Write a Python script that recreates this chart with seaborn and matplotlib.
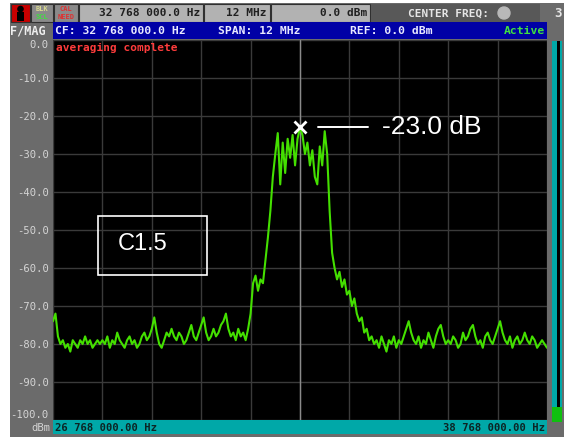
import numpy as np
import matplotlib
matplotlib.use("Agg")
import matplotlib.pyplot as plt
import matplotlib.patches as mpatches
import seaborn as sns

# ── Sweep settings ────────────────────────────────────────────
START_MHZ = 26.768
STOP_MHZ = 38.768
CENTER_MHZ = 32.768
REF_DBM = 0.0
BOTTOM_DBM = -100.0
Y_TICKS = [0, -10, -20, -30, -40, -50, -60, -70, -80, -90, -100]

# ── Trace (dBm), 201 sweep points ─────────────────────────────
floor_left = [-74, -72, -78, -80, -79, -81, -80, -82, -79, -80,
              -81, -79, -80, -78, -80, -79, -81, -80, -79, -80,
              -79, -80, -78, -81, -79, -80, -77, -79, -80, -81,
              -79, -78, -80, -79, -81, -80, -78, -77, -79, -78,
              -76, -73, -77, -80, -81, -79, -77, -78, -76, -78,
              -79, -77, -78, -80, -79, -77, -75, -78, -79, -77,
              -75, -73, -77, -79, -78, -76, -78, -77, -75, -74,
              -72, -76, -78, -77, -79, -76, -78, -77, -79, -76]
rise = [-72, -64, -62, -66, -63, -64, -58, -52, -45, -36]
top_left = [-30, -24.5, -38, -27, -35, -26, -31, -25, -33, -26]
top_center = [-23]
top_right = [-25, -30, -27, -33, -29, -36, -38, -28, -33, -24]
fall = [-30, -45, -56, -60, -63, -61, -65, -63, -67, -66]
floor_right = [-70, -68, -72, -74, -73, -77, -76, -79, -78, -80,
               -79, -81, -78, -80, -82, -79, -80, -78, -81, -79,
               -80, -78, -76, -74, -77, -79, -80, -78, -81, -79,
               -80, -77, -79, -81, -78, -76, -75, -78, -80, -79,
               -80, -78, -79, -81, -80, -77, -79, -78, -76, -75,
               -78, -80, -79, -81, -78, -77, -79, -80, -78, -76,
               -74, -77, -79, -80, -78, -81, -79, -78, -80, -79,
               -77, -79, -80, -78, -79, -81, -80, -79, -80, -81]

level = np.array(floor_left + rise + top_left + top_center + top_right
                 + fall + floor_right, dtype=float)
freq = np.linspace(START_MHZ, STOP_MHZ, len(level))

# ── Colours ───────────────────────────────────────────────────
FRAME = "#6b6b6b"
BOX = "#b2b2b2"
BLUE = "#0000a6"
TEAL = "#00a8a8"
TRACE = "#44e000"
GRID = "#3a3a3a"
MONO = "DejaVu Sans Mono"

sns.set_style("dark")
plt.rcParams["font.family"] = ["DejaVu Sans"]

W, H = 564, 444
fig = plt.figure(figsize=(W / 100, H / 100), dpi=100)
fig.patch.set_facecolor("white")

# background layer in pixel coordinates for the instrument frame
bg = fig.add_axes([0, 0, 1, 1])
bg.set_xlim(0, W)
bg.set_ylim(H, 0)
bg.axis("off")


def rect(x0, y0, x1, y1, fc, ec="none", lw=0):
    bg.add_patch(mpatches.Rectangle((x0, y0), x1 - x0, y1 - y0,
                                    facecolor=fc, edgecolor=ec, linewidth=lw))


rect(10, 3, W, 437, FRAME)
# top status row
rect(11, 4, 30, 22, "#c80000", "#303030", 0.8)
bg.add_patch(mpatches.Circle((20.5, 9), 2.6, color="black"))
rect(17, 12, 24, 21, "black")
rect(31, 4, 53, 22, "#8a8a8a", "#303030", 0.8)
bg.text(42, 9, "BLK", color="#d8d890", fontsize=5, fontfamily=MONO,
        fontweight="bold", ha="center", va="center")
bg.text(42, 17, "SCL", color="#40e040", fontsize=5, fontfamily=MONO,
        fontweight="bold", ha="center", va="center")
rect(54, 4, 78, 22, "#8a8a8a", "#303030", 0.8)
bg.text(66, 9, "CAL", color="#e03030", fontsize=5, fontfamily=MONO,
        fontweight="bold", ha="center", va="center")
bg.text(66, 17, "NEED", color="#e03030", fontsize=5, fontfamily=MONO,
        fontweight="bold", ha="center", va="center")
rect(79, 4, 203, 22, BOX, "#303030", 0.8)
bg.text(200, 13.5, "32 768 000.0 Hz", color="#202020", fontsize=8,
        fontfamily=MONO, fontweight="bold", ha="right", va="center")
rect(204, 4, 270, 22, BOX, "#303030", 0.8)
bg.text(267, 13.5, "12 MHz", color="#202020", fontsize=8,
        fontfamily=MONO, fontweight="bold", ha="right", va="center")
rect(271, 4, 370, 22, BOX, "#303030", 0.8)
bg.text(367, 13.5, "0.0 dBm", color="#202020", fontsize=8,
        fontfamily=MONO, fontweight="bold", ha="right", va="center")
rect(371, 4, 540, 22, "#585858")
bg.text(448, 14, "CENTER FREQ:", color="#e6e6e6", fontsize=8,
        fontfamily=MONO, fontweight="bold", ha="center", va="center")
bg.add_patch(mpatches.Circle((504, 13), 6, color="#b8b8b8"))
bg.text(558, 13.5, "3", color="#e6e6e6", fontsize=9, fontfamily=MONO,
        fontweight="bold", ha="center", va="center")

# blue info bar
rect(53, 22, 547, 39, BLUE)
bg.text(10, 30.5, "F/MAG", color="#eeeeee", fontsize=8.6, fontfamily=MONO,
        fontweight="bold", ha="left", va="center")
bg.text(55, 31, "CF: 32 768 000.0 Hz", color="#e8e8ff", fontsize=8.2,
        fontfamily=MONO, fontweight="bold", ha="left", va="center")
bg.text(218, 31, "SPAN: 12 MHz", color="#e8e8ff", fontsize=8.2,
        fontfamily=MONO, fontweight="bold", ha="left", va="center")
bg.text(350, 31, "REF: 0.0 dBm", color="#e8e8ff", fontsize=8.2,
        fontfamily=MONO, fontweight="bold", ha="left", va="center")
bg.text(545, 31, "Active", color="#40e040", fontsize=8.2,
        fontfamily=MONO, fontweight="bold", ha="right", va="center")

# bottom frequency bar
rect(53, 420, 547, 434, TEAL)
bg.text(55, 427.5, f"{START_MHZ * 1e6:,.2f} Hz".replace(",", " "),
        color="#0c2424", fontsize=7.6, fontfamily=MONO, fontweight="bold",
        ha="left", va="center")
bg.text(545, 427.5, f"{STOP_MHZ * 1e6:,.2f} Hz".replace(",", " "),
        color="#0c2424", fontsize=7.6, fontfamily=MONO, fontweight="bold",
        ha="right", va="center")
bg.text(50, 428, "dBm", color="#d4d4d4", fontsize=7.6, fontfamily=MONO,
        ha="right", va="center")

# right level meter
rect(552, 41, 562, 422, TEAL)
rect(557, 41, 560, 407, "black")
rect(552, 407, 562, 422, "#10c010")

# ── Spectrum plot ─────────────────────────────────────────────
ax = fig.add_axes([53 / W, 1 - 420 / H, 494 / W, 380 / H])
ax.set_facecolor("black")
ax.set_xlim(START_MHZ, STOP_MHZ)
ax.set_ylim(BOTTOM_DBM, REF_DBM)

xgrid = np.linspace(START_MHZ, STOP_MHZ, 11)
ax.set_xticks(xgrid)
ax.set_xticklabels([])
ax.set_yticks(Y_TICKS)
ax.set_yticklabels([f"{v:.1f}" for v in Y_TICKS], fontfamily=MONO,
                   fontsize=7.6, color="#d4d4d4")
ax.tick_params(length=0, pad=3)
ax.grid(True, color=GRID, linewidth=1)
ax.axvline(CENTER_MHZ, color="#8a8a8a", linewidth=1, zorder=1)
for s in ax.spines.values():
    s.set_visible(False)
labels = ax.get_yticklabels()
labels[0].set_va("top")
labels[-1].set_va("bottom")

sns.lineplot(x=freq, y=level, ax=ax, color=TRACE, linewidth=1.5, zorder=3)

# peak marker
ipk = int(np.argmax(level))
pk_f, pk_db = freq[ipk], level[ipk]
ax.plot(pk_f, pk_db, marker="x", color="white", markersize=8,
        markeredgewidth=2, zorder=5)
ax.plot([pk_f + 0.44, pk_f + 1.65], [pk_db, pk_db], color="white",
        linewidth=1.4, zorder=5)
ax.text(pk_f + 2.0, pk_db, f"{pk_db:.1f} dB", color="white", fontsize=19,
        fontfamily="Liberation Sans", ha="left", va="center", zorder=5)

ax.text(0.006, 0.993, "averaging complete", transform=ax.transAxes,
        color="#ff3c3c", fontsize=8, fontfamily=MONO, fontweight="bold",
        ha="left", va="top")

# channel label box
ax.add_patch(mpatches.Rectangle((0.091, 0.382), 0.221, 0.155,
                                transform=ax.transAxes, fill=False,
                                edgecolor="white", linewidth=1.2, zorder=4))
ax.text(0.132, 0.462, "C1.5", transform=ax.transAxes, color="white",
        fontsize=17, fontfamily="Liberation Sans", ha="left", va="center",
        zorder=4)

fig.savefig("out.png", dpi=100)
